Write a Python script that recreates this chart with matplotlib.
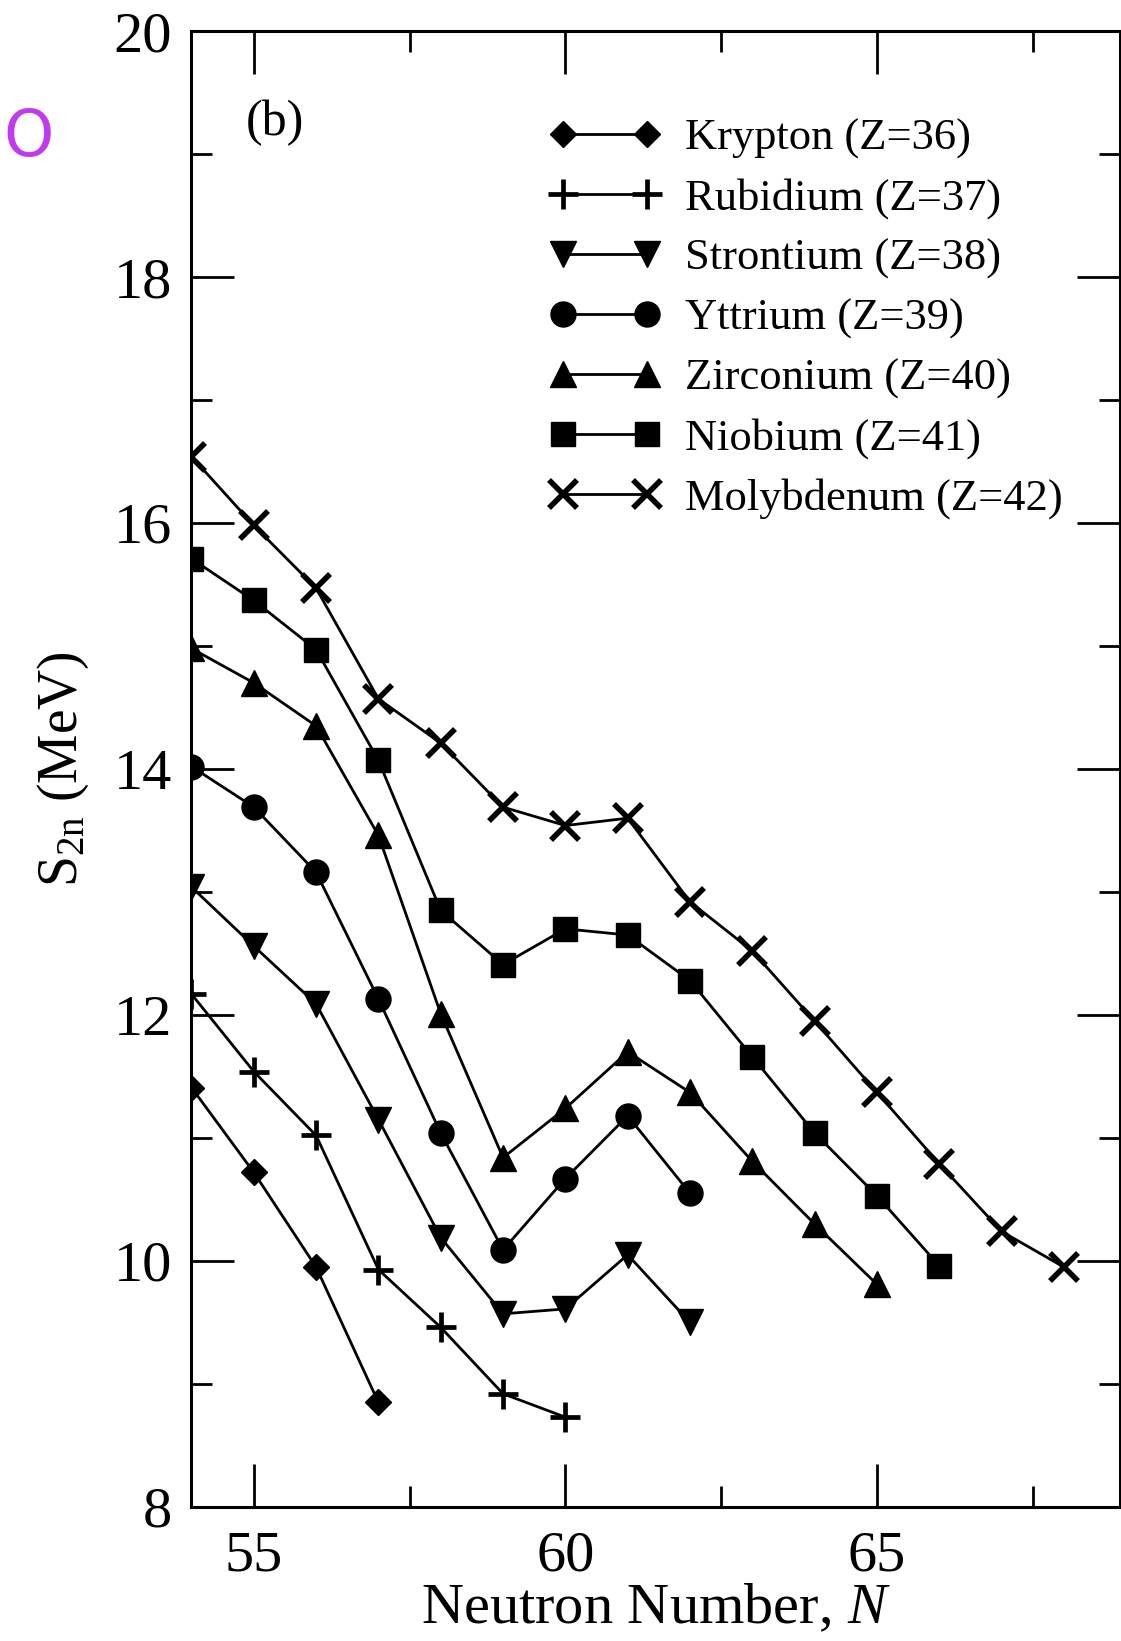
import matplotlib
matplotlib.use("Agg")
import matplotlib.pyplot as plt
from matplotlib.ticker import MultipleLocator

plt.rcParams["font.family"] = ["Liberation Serif", "DejaVu Serif"]
plt.rcParams["mathtext.fontset"] = "custom"
plt.rcParams["mathtext.rm"] = "Liberation Serif"
plt.rcParams["mathtext.it"] = "Liberation Serif:italic"

# Two-neutron separation energies S2n (MeV) vs neutron number N
kr_n = [54, 55, 56, 57]
kr_s = [11.41, 10.72, 9.95, 8.85]

rb_n = [54, 55, 56, 57, 58, 59, 60]
rb_s = [12.17, 11.54, 11.02, 9.93, 9.46, 8.92, 8.73]

sr_n = [54, 55, 56, 57, 58, 59, 60, 61, 62]
sr_s = [13.04, 12.56, 12.09, 11.15, 10.19, 9.57, 9.61, 10.05, 9.50]

y_n = [54, 55, 56, 57, 58, 59, 60, 61, 62]
y_s = [14.02, 13.69, 13.16, 12.13, 11.04, 10.09, 10.67, 11.18, 10.55]

zr_n = [54, 55, 56, 57, 58, 59, 60, 61, 62, 63, 64, 65]
zr_s = [14.98, 14.70, 14.35, 13.46, 12.01, 10.84, 11.24, 11.70, 11.37, 10.81, 10.30, 9.81]

nb_n = [54, 55, 56, 57, 58, 59, 60, 61, 62, 63, 64, 65, 66]
nb_s = [15.71, 15.37, 14.97, 14.07, 12.85, 12.41, 12.70, 12.65, 12.28, 11.66, 11.04, 10.53, 9.96]

mo_n = [54, 55, 56, 57, 58, 59, 60, 61, 62, 63, 64, 65, 66, 67, 68]
mo_s = [16.54, 15.98, 15.47, 14.57, 14.21, 13.69, 13.54, 13.60, 12.92, 12.52, 11.95, 11.37, 10.79, 10.24, 9.95]

labels = ["Krypton (Z=36)", "Rubidium (Z=37)", "Strontium (Z=38)", "Yttrium (Z=39)",
          "Zirconium (Z=40)", "Niobium (Z=41)", "Molybdenum (Z=42)"]

series = [(kr_n, kr_s), (rb_n, rb_s), (sr_n, sr_s), (y_n, y_s),
          (zr_n, zr_s), (nb_n, nb_s), (mo_n, mo_s)]
styles = [
    dict(marker="D", markersize=13.5),
    dict(marker="+", markersize=21, markeredgewidth=3.4),
    dict(marker="v", markersize=19),
    dict(marker="o", markersize=18),
    dict(marker="^", markersize=19),
    dict(marker="s", markersize=17),
    dict(marker="x", markersize=20, markeredgewidth=4.0),
]

fig = plt.figure(figsize=(11.21, 16.41), dpi=100)
ax = fig.add_axes([0.1708, 0.0817, 0.9991 - 0.1708, 0.9811 - 0.0817])

for (n, s), st, lab in zip(series, styles, labels):
    ax.plot(n, s, color="black", linewidth=2.0, label=lab, **st)

ax.set_xlim(54, 68.9)
ax.set_ylim(8, 20)
ax.xaxis.set_major_locator(MultipleLocator(5))
ax.xaxis.set_minor_locator(MultipleLocator(2.5))
ax.yaxis.set_major_locator(MultipleLocator(2))
ax.yaxis.set_minor_locator(MultipleLocator(1))
ax.tick_params(which="both", direction="in", top=True, right=True, width=2.0,
               labelsize=42)
ax.tick_params(which="major", length=31)
ax.tick_params(which="minor", length=15)
ax.tick_params(axis="y", pad=14)
ax.tick_params(axis="x", pad=17)
for sp in ax.spines.values():
    sp.set_linewidth(2.2)

ax.set_xlabel(r"Neutron Number, $N$", fontsize=42, labelpad=0)
ax.set_ylabel(r"S$_\mathrm{2n}$ (MeV)", fontsize=40, labelpad=16)

ax.text(0.058, 0.938, "(b)", transform=ax.transAxes, fontsize=36,
        ha="left", va="center")

leg = ax.legend(loc="upper left", bbox_to_anchor=(0.386, 0.941), frameon=False,
                numpoints=2, fontsize=32, handlelength=2.48, handletextpad=0.56,
                labelspacing=0.435, borderpad=0, borderaxespad=0)

fig.text(29 / 1121, 1 - 138 / 1641, "O", color="#C23AF0", fontsize=46,
         family="DejaVu Sans", ha="center", va="center")

fig.savefig("out.png", dpi=100)
